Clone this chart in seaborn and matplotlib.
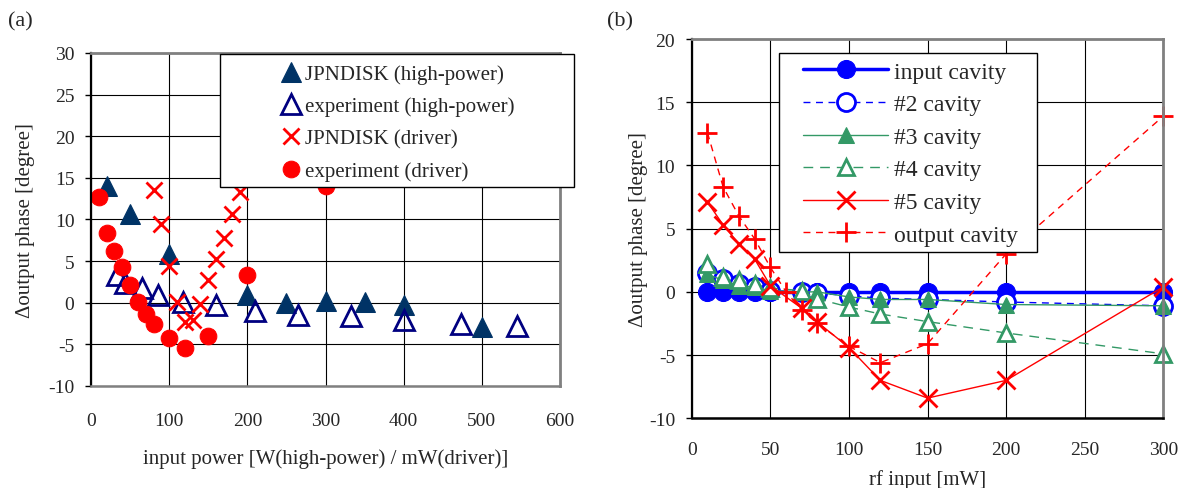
import matplotlib
matplotlib.use("Agg")
import matplotlib.pyplot as plt
from matplotlib.patches import Rectangle
import seaborn as sns

# ---------------- (a) phase vs. input power ----------------
hp_sim_x = [20, 50, 100, 200, 250, 300, 350, 400, 500]
hp_sim_y = [14.0, 10.6, 5.9, 0.9, 0.0, 0.2, 0.1, -0.3, -2.9]

hp_exp_x = [33, 44, 65, 86, 118, 160, 210, 265, 333, 400, 473, 545]
hp_exp_y = [3.3, 2.4, 1.8, 0.9, 0.1, -0.3, -1.0, -1.5, -1.6, -2.1, -2.6, -2.8]

drv_sim_x = [80, 90, 100, 110, 120, 130, 140, 150, 160, 170, 180, 190]
drv_sim_y = [13.5, 9.4, 4.4, 0.1, -2.3, -2.1, -0.1, 2.7, 5.3, 7.8, 10.7, 13.3]

drv_exp_x = [10, 20, 30, 40, 50, 60, 70, 80, 100, 120, 150, 200, 300]
drv_exp_y = [12.7, 8.4, 6.2, 4.3, 2.1, 0.1, -1.3, -2.5, -4.2, -5.4, -4.0, 3.3, 14.0]

labels_a = ["JPNDISK (high-power)", "experiment (high-power)",
            "JPNDISK (driver)", "experiment (driver)"]
xticks_a = [0, 100, 200, 300, 400, 500, 600]
yticks_a = [-10, -5, 0, 5, 10, 15, 20, 25, 30]

# ---------------- (b) phase of each cavity vs. rf input ----------------
rf = [10, 20, 30, 40, 50, 70, 80, 100, 120, 150, 200, 300]
input_cav = [0, 0, 0, 0, 0, 0, 0, 0, 0, 0, 0, 0]
cav2 = [1.5, 1.0, 0.6, 0.4, 0.1, 0.0, -0.1, -0.3, -0.5, -0.6, -0.8, -1.1]
cav3 = [1.4, 0.9, 0.5, 0.35, 0.1, 0.0, 0.0, -0.4, -0.6, -0.6, -1.0, -1.1]
cav4 = [2.2, 1.2, 0.9, 0.6, 0.3, 0.1, -0.55, -1.2, -1.75, -2.35, -3.25, -4.9]
cav5 = [7.1, 5.3, 3.8, 2.6, 0.5, -1.3, -2.4, -4.4, -7.0, -8.4, -7.0, 0.4]
rf_out = [10, 20, 30, 40, 50, 60, 70, 80, 100, 120, 150, 200, 300]
output_cav = [12.6, 8.3, 6.0, 4.2, 1.95, 0.0, -1.45, -2.5, -4.3, -5.6, -4.1, 3.0, 13.9]

labels_b = ["input cavity", "#2 cavity", "#3 cavity", "#4 cavity",
            "#5 cavity", "output cavity"]
xticks_b = [0, 50, 100, 150, 200, 250, 300]
yticks_b = [-10, -5, 0, 5, 10, 15, 20]

sns.set_theme(style="white")
plt.rcParams["font.family"] = ["Liberation Serif", "DejaVu Serif"]
plt.rcParams["axes.unicode_minus"] = False

NAVY = "#003366"
NAVY2 = "#000080"
RED = "#ff0000"
BLUE = "#0000ff"
GREEN = "#339966"
GRAY = "#808080"

fig = plt.figure(figsize=(11.82, 4.89), dpi=100)
axA = fig.add_axes([0.077, 0.2086, 0.3968, 0.681])
axB = fig.add_axes([0.5852, 0.1425, 0.399, 0.7757])


def series(ax, x, y, **kw):
    sns.lineplot(x=x, y=y, ax=ax, sort=False, estimator=None,
                 errorbar=None, legend=False, clip_on=False, **kw)


def frame(ax, bottom_color):
    ax.grid(True, color="black", linewidth=0.8)
    ax.set_axisbelow(True)
    for side in ("top", "right"):
        ax.spines[side].set_color(GRAY)
        ax.spines[side].set_linewidth(2)
    ax.spines["left"].set_color("black")
    ax.spines["left"].set_linewidth(1.6)
    ax.spines["bottom"].set_color(bottom_color)
    ax.spines["bottom"].set_linewidth(1.8)
    ax.tick_params(axis="y", left=True, direction="out", length=4,
                   width=1, color="black", pad=8, labelsize=14)
    ax.tick_params(axis="x", bottom=False, length=0, labelsize=14)


# ---- panel (a)
series(axA, hp_sim_x, hp_sim_y, linestyle="none", marker="^",
       markersize=15, color=NAVY, markerfacecolor=NAVY,
       markeredgecolor=NAVY)
series(axA, hp_exp_x, hp_exp_y, linestyle="none", marker="^",
       markersize=15, color=NAVY2, markerfacecolor="none",
       markeredgecolor=NAVY2, markeredgewidth=2)
series(axA, drv_sim_x, drv_sim_y, linestyle="none", marker="x",
       markersize=11, color=RED, markeredgecolor=RED, markeredgewidth=2)
series(axA, drv_exp_x, drv_exp_y, linestyle="none", marker="o",
       markersize=12, color=RED, markerfacecolor=RED, markeredgecolor=RED)

axA.set_xlim(0, 600)
axA.set_ylim(-10, 30)
axA.set_xticks(xticks_a)
axA.set_yticks(yticks_a)
frame(axA, GRAY)
axA.tick_params(axis="x", pad=19)
axA.set_xlabel("input power [W(high-power) / mW(driver)]", fontsize=15)
axA.set_ylabel("\u0394output phase [degree]", fontsize=15)
axA.xaxis.set_label_coords(0.5, -0.188)
axA.yaxis.set_label_coords(-0.119, 0.5)

axA.add_patch(Rectangle((0.275, 0.5976), 0.755, 0.3994,
                        transform=axA.transAxes, facecolor="white",
                        edgecolor="black", linewidth=1.0, zorder=4.5,
                        clip_on=False))
legA = axA.legend(handles=list(axA.lines), labels=labels_a,
                  loc="upper left", bbox_to_anchor=(0.405, 0.966),
                  frameon=False, fontsize=15, handlelength=1.0,
                  handletextpad=0.15, labelspacing=0.61, borderpad=0,
                  borderaxespad=0)
legA.set_zorder(5)

# ---- panel (b)
series(axB, rf, input_cav, color=BLUE, linewidth=2.5, marker="o",
       markersize=13, markerfacecolor=BLUE, markeredgecolor=BLUE)
series(axB, rf, cav2, color=BLUE, linewidth=1.0, linestyle=(0, (5, 4)),
       marker="o", markersize=13, markerfacecolor="white",
       markeredgecolor=BLUE, markeredgewidth=2)
series(axB, rf, cav3, color=GREEN, linewidth=1.0, marker="^",
       markersize=11, markerfacecolor=GREEN, markeredgecolor=GREEN)
series(axB, rf, cav4, color=GREEN, linewidth=1.0, linestyle=(0, (7, 5)),
       marker="^", markersize=11, markerfacecolor="white",
       markeredgecolor=GREEN, markeredgewidth=2)
series(axB, rf, cav5, color=RED, linewidth=1.0, marker="x",
       markersize=13, markeredgecolor=RED, markeredgewidth=2)
series(axB, rf_out, output_cav, color=RED, linewidth=1.0,
       linestyle=(0, (5, 4)), marker="+", markersize=15,
       markeredgecolor=RED, markeredgewidth=2)

axB.set_xlim(0, 300)
axB.set_ylim(-10, 20)
axB.set_xticks(xticks_b)
axB.set_yticks(yticks_b)
frame(axB, "black")
axB.tick_params(axis="x", pad=16)
axB.set_xlabel("rf input [mW]", fontsize=15)
axB.set_ylabel("\u0394output phase [degree]", fontsize=15)
axB.xaxis.set_label_coords(0.5, -0.135)
axB.yaxis.set_label_coords(-0.093, 0.5)

axB.add_patch(Rectangle((0.185, 0.4385), 0.547, 0.5245,
                        transform=axB.transAxes, facecolor="white",
                        edgecolor="black", linewidth=1.0, zorder=4.5,
                        clip_on=False))
legB = axB.legend(handles=list(axB.lines), labels=labels_b,
                  loc="upper left", bbox_to_anchor=(0.236, 0.942),
                  frameon=False, fontsize=17, handlelength=3.6,
                  handletextpad=0.25, labelspacing=0.47, borderpad=0,
                  borderaxespad=0)
legB.set_zorder(5)

fig.text(8 / 1182, 1 - 22 / 489, "(a)", fontsize=16, ha="left", va="center")
fig.text(607 / 1182, 1 - 22 / 489, "(b)", fontsize=16, ha="left", va="center")

fig.savefig("out.png", dpi=100)
